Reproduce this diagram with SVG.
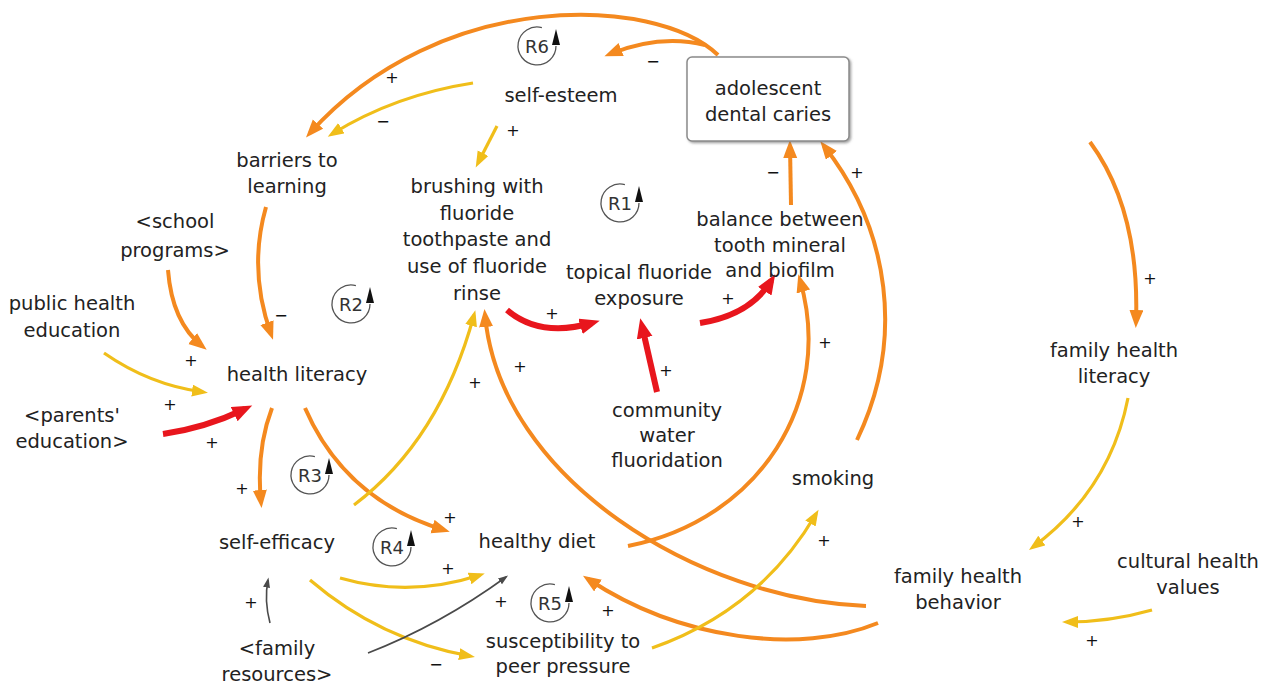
<svg xmlns="http://www.w3.org/2000/svg" width="1284" height="686" viewBox="0 0 1284 686">
  <defs>
    <style>
      text { font-family: "DejaVu Sans", "Liberation Sans", sans-serif; fill: #222; }
      .node { font-size: 19.5px; text-anchor: middle; }
      .pol { font-size: 16px; text-anchor: middle; fill: #111; }
      .loop text { font-size: 18px; text-anchor: middle; fill: #333; }
      .loop path { fill: none; stroke: #555; stroke-width: 1.3; }
      .loop polygon { fill: #111; }
      .c { fill: none; }
      .o { stroke: #F4891F; stroke-width: 4; marker-end: url(#hO); }
      .y { stroke: #F0BE1A; stroke-width: 3.2; marker-end: url(#hY); }
      .r { stroke: #E8161D; stroke-width: 6; marker-end: url(#hR); }
      .g { stroke: #4a4a4a; stroke-width: 1.6; marker-end: url(#hG); }
    </style>
    <marker id="hO" markerUnits="userSpaceOnUse" markerWidth="20" markerHeight="16" refX="12" refY="7" orient="auto">
      <path d="M0,0 L18,7 L0,14 z" fill="#F4891F"/>
    </marker>
    <marker id="hY" markerUnits="userSpaceOnUse" markerWidth="18" markerHeight="14" refX="11" refY="6" orient="auto">
      <path d="M0,0 L16,6 L0,12 z" fill="#F0BE1A"/>
    </marker>
    <marker id="hR" markerUnits="userSpaceOnUse" markerWidth="22" markerHeight="18" refX="12" refY="8" orient="auto">
      <path d="M0,0 L20,8 L0,16 z" fill="#E8161D"/>
    </marker>
    <marker id="hG" markerUnits="userSpaceOnUse" markerWidth="12" markerHeight="9" refX="7.5" refY="3.5" orient="auto">
      <path d="M0,0 L10,3.5 L0,7 z" fill="#4a4a4a"/>
    </marker>
    <filter id="shadow" x="-10%" y="-10%" width="125%" height="130%">
      <feDropShadow dx="1.5" dy="1.5" stdDeviation="1" flood-color="#666" flood-opacity="0.6"/>
    </filter>
  </defs>

  <rect width="1284" height="686" fill="#fff"/>

  <!-- causal links -->
  <g id="connectors" class="c">
    <path class="c o" d="M718,55 C655,-5 440,-12 310,133"/>
    <path class="c o" d="M705,45 Q660,34 610,54"/>
    <path class="c y" d="M473,83 Q395,95 332,134"/>
    <path class="c y" d="M497,126 L478,163"/>
    <path class="c o" d="M266,207 Q248,270 271,334"/>
    <path class="c o" d="M168,270 Q172,322 202,346"/>
    <path class="c y" d="M104,353 Q150,385 203,392"/>
    <path class="c r" d="M163,434 Q205,428 245,409"/>
    <path class="c o" d="M272,408 Q256,450 261,502"/>
    <path class="c o" d="M305,408 Q345,500 444,530"/>
    <path class="c y" d="M354,505 Q440,440 474,315"/>
    <path class="c y" d="M340,578 Q410,598 480,575"/>
    <path class="c y" d="M310,580 Q380,640 470,656"/>
    <path class="c g" d="M270,623 Q264,600 268,580"/>
    <path class="c g" d="M368,653 Q440,625 506,577"/>
    <path class="c r" d="M507,310 Q540,338 592,323"/>
    <path class="c r" d="M657,392 L642,326"/>
    <path class="c r" d="M700,323 Q750,315 771,281"/>
    <path class="c o" d="M791,205 L790,146"/>
    <path class="c o" d="M857,440 C905,340 890,230 824,146"/>
    <path class="c o" d="M628,546 C760,520 835,400 800,280"/>
    <path class="c o" d="M866,606 C700,600 500,480 485,315"/>
    <path class="c o" d="M878,623 C800,655 680,640 588,579"/>
    <path class="c y" d="M652,648 Q760,610 816,514"/>
    <path class="c y" d="M1128,398 Q1110,490 1033,547"/>
    <path class="c y" d="M1152,610 Q1110,622 1067,622"/>
    <path class="c o" d="M1090,142 Q1140,210 1136,322"/>
  </g>

  <!-- link polarities -->
  <g id="polarities">
    <text class="pol" x="392" y="83">+</text>
    <text class="pol" x="653" y="67">−</text>
    <text class="pol" x="383" y="127">−</text>
    <text class="pol" x="513" y="136">+</text>
    <text class="pol" x="281" y="321">−</text>
    <text class="pol" x="191" y="366">+</text>
    <text class="pol" x="170" y="410">+</text>
    <text class="pol" x="212" y="448">+</text>
    <text class="pol" x="242" y="494">+</text>
    <text class="pol" x="450" y="523">+</text>
    <text class="pol" x="475" y="388">+</text>
    <text class="pol" x="448" y="574">+</text>
    <text class="pol" x="436" y="670">−</text>
    <text class="pol" x="251" y="608">+</text>
    <text class="pol" x="501" y="607">+</text>
    <text class="pol" x="552" y="319">+</text>
    <text class="pol" x="666" y="376">+</text>
    <text class="pol" x="728" y="304">+</text>
    <text class="pol" x="773" y="178">−</text>
    <text class="pol" x="857" y="178">+</text>
    <text class="pol" x="825" y="348">+</text>
    <text class="pol" x="520" y="372">+</text>
    <text class="pol" x="608" y="616">+</text>
    <text class="pol" x="824" y="546">+</text>
    <text class="pol" x="1078" y="527">+</text>
    <text class="pol" x="1092" y="646">+</text>
    <text class="pol" x="1150" y="284">+</text>
  </g>

  <!-- reinforcing loop markers -->
  <g id="loop-R6" class="loop" transform="translate(537,46)">
    <path d="M4.9,-18.4 A19,19 0 1 0 19,0"/>
    <polygon points="15,-1 23,-1 19,-17"/>
    <text x="0" y="6.5">R6</text>
  </g>
  <g id="loop-R1" class="loop" transform="translate(620,203)">
    <path d="M4.9,-18.4 A19,19 0 1 0 19,0"/>
    <polygon points="15,-1 23,-1 19,-17"/>
    <text x="0" y="6.5">R1</text>
  </g>
  <g id="loop-R2" class="loop" transform="translate(351,304)">
    <path d="M4.9,-18.4 A19,19 0 1 0 19,0"/>
    <polygon points="15,-1 23,-1 19,-17"/>
    <text x="0" y="6.5">R2</text>
  </g>
  <g id="loop-R3" class="loop" transform="translate(310,475)">
    <path d="M4.9,-18.4 A19,19 0 1 0 19,0"/>
    <polygon points="15,-1 23,-1 19,-17"/>
    <text x="0" y="6.5">R3</text>
  </g>
  <g id="loop-R4" class="loop" transform="translate(392,547)">
    <path d="M4.9,-18.4 A19,19 0 1 0 19,0"/>
    <polygon points="15,-1 23,-1 19,-17"/>
    <text x="0" y="6.5">R4</text>
  </g>
  <g id="loop-R5" class="loop" transform="translate(550,603)">
    <path d="M4.9,-18.4 A19,19 0 1 0 19,0"/>
    <polygon points="15,-1 23,-1 19,-17"/>
    <text x="0" y="6.5">R5</text>
  </g>

  <!-- variables -->
  <g id="adolescent-dental-caries">
    <rect x="687" y="57" width="162" height="84" rx="5" fill="#fff" stroke="#8a8a8a" stroke-width="1.5" filter="url(#shadow)"/>
    <text class="node" x="768" y="95">adolescent</text>
    <text class="node" x="768" y="121">dental caries</text>
  </g>
  <g id="self-esteem"><text class="node" x="561" y="102">self-esteem</text></g>
  <g id="barriers-to-learning">
    <text class="node" x="287" y="167">barriers to</text>
    <text class="node" x="287" y="193">learning</text>
  </g>
  <g id="brushing">
    <text class="node" x="477" y="193">brushing with</text>
    <text class="node" x="477" y="220">fluoride</text>
    <text class="node" x="477" y="246">toothpaste and</text>
    <text class="node" x="477" y="273">use of fluoride</text>
    <text class="node" x="477" y="300">rinse</text>
  </g>
  <g id="school-programs">
    <text class="node" x="175" y="228">&lt;school</text>
    <text class="node" x="175" y="257">programs&gt;</text>
  </g>
  <g id="public-health-education">
    <text class="node" x="72" y="310">public health</text>
    <text class="node" x="72" y="337">education</text>
  </g>
  <g id="health-literacy"><text class="node" x="297" y="381">health literacy</text></g>
  <g id="parents-education">
    <text class="node" x="72" y="422">&lt;parents'</text>
    <text class="node" x="72" y="448">education&gt;</text>
  </g>
  <g id="topical-fluoride-exposure">
    <text class="node" x="639" y="279">topical fluoride</text>
    <text class="node" x="639" y="305">exposure</text>
  </g>
  <g id="balance">
    <text class="node" x="780" y="226">balance between</text>
    <text class="node" x="780" y="252">tooth mineral</text>
    <text class="node" x="780" y="277">and biofilm</text>
  </g>
  <g id="community-water-fluoridation">
    <text class="node" x="667" y="417">community</text>
    <text class="node" x="667" y="442">water</text>
    <text class="node" x="667" y="467">fluoridation</text>
  </g>
  <g id="smoking"><text class="node" x="833" y="485">smoking</text></g>
  <g id="family-health-literacy">
    <text class="node" x="1114" y="357">family health</text>
    <text class="node" x="1114" y="383">literacy</text>
  </g>
  <g id="self-efficacy"><text class="node" x="277" y="549">self-efficacy</text></g>
  <g id="healthy-diet"><text class="node" x="537" y="548">healthy diet</text></g>
  <g id="family-resources">
    <text class="node" x="277" y="655">&lt;family</text>
    <text class="node" x="277" y="681">resources&gt;</text>
  </g>
  <g id="susceptibility">
    <text class="node" x="563" y="648">susceptibility to</text>
    <text class="node" x="563" y="673">peer pressure</text>
  </g>
  <g id="family-health-behavior">
    <text class="node" x="958" y="583">family health</text>
    <text class="node" x="958" y="609">behavior</text>
  </g>
  <g id="cultural-health-values">
    <text class="node" x="1188" y="568">cultural health</text>
    <text class="node" x="1188" y="594">values</text>
  </g>
</svg>
